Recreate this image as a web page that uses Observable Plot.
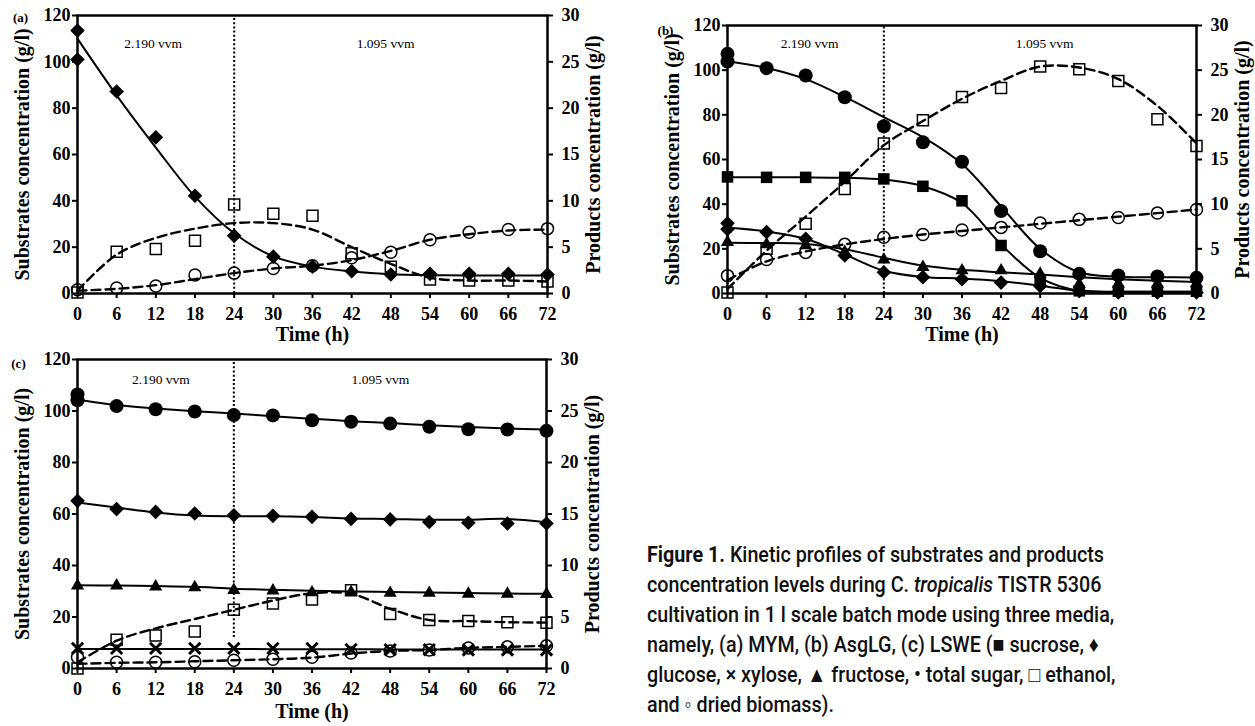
<!DOCTYPE html>
<html>
<head>
<meta charset="utf-8">
<script src="https://cdn.jsdelivr.net/npm/d3@7"></script>
<script src="https://cdn.jsdelivr.net/npm/@observablehq/plot@0.6"></script>
<style>
html,body{margin:0;padding:0;background:#fff;}
#root{position:relative;width:1255px;height:726px;overflow:hidden;background:#fff;}
.panel{position:absolute;}
.panel svg{display:block;overflow:visible;}
#caption{position:absolute;left:647px;top:540px;font-family:Roboto,"Noto Sans",sans-serif;font-size:22px;line-height:30px;font-weight:500;color:#111;white-space:nowrap;transform-origin:0 0;}
#caption b{font-weight:700;}
</style>
</head>
<body>
<div id="root">
  <div class="panel" id="pc" style="left:0px;top:330px"></div>
  <div class="panel" id="pa" style="left:0px;top:0px"></div>
  <div class="panel" id="pb" style="left:640px;top:0px"></div>
  <div id="caption">
    <div id="cap1"><b>Figure 1.</b> Kinetic profiles of substrates and products</div>
    <div>concentration levels during C. <i>tropicalis</i> TISTR 5306</div>
    <div>cultivation in 1 l scale batch mode using three media,</div>
    <div>namely, (a) MYM, (b) AsgLG, (c) LSWE (■ sucrose, ♦</div>
    <div>glucose, × xylose, ▲ fructose, • total sugar, □ ethanol,</div>
    <div>and ◦ dried biomass).</div>
  </div>
</div>
<script>
// ---------- DATA ----------
const hours = [0, 6, 12, 18, 24, 30, 36, 42, 48, 54, 60, 66, 72];
const substrateTicks = [0, 20, 40, 60, 80, 100, 120];
const productMax = 30;     // right axis top (g/l)
const substrateMax = 120;  // left axis top (g/l)

// (a) MYM  — substrates (g/l)
const aGlucose      = [113.5, 87.2, 67.4, 42.2, 24.9, 15.9, 11.6, 9.6, 8.2, 8.5, 8.5, 8.5, 8.2];
const aGlucoseT0b   = 101.0;
const aGlucoseFit   = [110, 85.5, 63, 41.8, 26, 16, 11.6, 9.5, 8.3, 7.9, 7.8, 7.8, 7.8];
// (a) products (g/l)
const aEthanol      = [0.1, 4.5, 4.8, 5.7, 9.6, 8.6, 8.4, 4.35, 2.9, 1.5, 1.4, 1.4, 1.3];
const aEthanolFit   = [0.3, 4.2, 6.0, 7.0, 7.6, 7.6, 6.9, 5.0, 3.2, 1.7, 1.4, 1.4, 1.3];
const aBiomass      = [0.4, 0.6, 0.8, 2.0, 2.2, 2.7, 3.0, 3.85, 4.45, 5.8, 6.6, 6.9, 7.0];
const aBiomassFit   = [0.3, 0.5, 0.9, 1.55, 2.2, 2.7, 3.0, 3.6, 4.6, 5.8, 6.4, 6.8, 6.9];

// (b) AsgLG — substrates (g/l)
const bTotal        = [107.3, 100.9, 97.6, 87.9, 74.9, 67.7, 59.0, 36.9, 18.9, 8.8, 8.1, 7.6, 7.0];
const bTotalT0b     = 103.9;
const bTotalFit     = [104, 101, 96, 88, 79, 70, 58, 39, 20, 9.5, 7.5, 7.3, 7.2];
const bSucrose      = [52.2, 52.0, 52.0, 52.0, 51.3, 48.0, 41.5, 21.5, 6.0, 1.2, 1.0, 1.0, 1.0];
const bSucroseFit   = [52, 52, 52, 51.8, 51, 48, 40.5, 22, 7, 1.2, 0.8, 0.8, 0.8];
const bGlucose      = [31.4, 27.5, 24.5, 17.0, 9.5, 7.3, 6.4, 4.9, 3.4, 1.2, 0.5, 0.5, 0.5];
const bGlucoseT0b   = 28.8;
const bGlucoseFit   = [29.6, 27.8, 24.5, 17.5, 10.2, 7.4, 6.7, 5.5, 3.5, 1.2, 0.8, 0.8, 0.8];
const bFructose     = [23.0, 22.0, 21.5, 18.5, 15.1, 11.8, 10.3, 10.3, 8.8, 4.2, 4.3, 4.3, 4.5];
const bFructoseFit  = [22.7, 22.6, 22.2, 19.8, 16.0, 12.5, 10.6, 9.5, 8.5, 7.3, 6.4, 5.7, 5.1];
// (b) products (g/l)
const bEthanol      = [0.1, 5.0, 7.8, 11.7, 16.8, 19.4, 22.0, 23.0, 25.4, 25.1, 23.8, 19.5, 16.5];
const bEthanolFit   = [0.5, 4.8, 8.6, 12.5, 16.6, 19.3, 21.8, 23.8, 25.4, 25.3, 24.0, 21.0, 16.8];
const bBiomass      = [2.0, 3.8, 4.6, 5.5, 6.3, 6.6, 7.1, 7.4, 7.9, 8.3, 8.5, 9.0, 9.4];
const bBiomassFit   = [1.5, 3.6, 4.7, 5.5, 6.1, 6.6, 7.0, 7.4, 7.8, 8.2, 8.6, 9.0, 9.4];

// (c) LSWE — substrates (g/l)
const cTotal        = [106.4, 101.9, 100.7, 99.8, 98.4, 98.3, 96.4, 95.8, 95.1, 93.9, 92.9, 92.8, 92.3];
const cTotalT0b     = 104.2;
const cTotalFit     = [104.5, 102.3, 101, 99.9, 99, 98, 97, 96, 95.3, 94.5, 93.8, 93.2, 92.8];
const cGlucose      = [65.1, 61.9, 60.8, 60.2, 59.5, 59.3, 58.9, 58.1, 57.9, 56.9, 56.6, 56.3, 56.3];
const cGlucoseFit   = [64.5, 62.5, 60.6, 59.4, 59.1, 59.1, 58.8, 58.3, 58.1, 57.8, 57.8, 58.1, 56.8];
const cFructose     = [32.2, 32.2, 31.8, 31.5, 30.4, 30.2, 29.5, 29.6, 29.3, 29.3, 29.0, 29.0, 28.9];
const cFructoseFit  = [32.3, 32.2, 32.0, 31.7, 31.0, 30.6, 30.2, 29.9, 29.7, 29.5, 29.3, 29.1, 29.0];
const cXylose       = [7.8, 7.8, 7.8, 7.8, 7.8, 7.8, 7.8, 7.4, 7.3, 7.3, 7.2, 7.2, 7.2];
const cXyloseFit    = [7.6, 7.6, 7.6, 7.6, 7.6, 7.5, 7.5, 7.5, 7.4, 7.4, 7.4, 7.4, 7.4];
// (c) products (g/l)
const cEthanol      = [0.0, 2.8, 3.2, 3.6, 5.7, 6.3, 6.7, 7.6, 5.3, 4.7, 4.6, 4.5, 4.45];
const cEthanolFit   = [0.6, 2.7, 3.9, 4.8, 5.7, 6.6, 7.3, 7.25, 5.8, 4.7, 4.6, 4.5, 4.45];
const cBiomass      = [1.1, 0.6, 0.6, 0.65, 0.8, 0.9, 1.1, 1.5, 1.7, 1.8, 2.0, 2.1, 2.2];
const cBiomassFit   = [0.45, 0.55, 0.6, 0.7, 0.8, 0.9, 1.05, 1.45, 1.7, 1.8, 2.0, 2.1, 2.2];

const aerationLabels = ["2.190 vvm", "1.095 vvm"];
const panelTags = ["(a)", "(b)", "(c)"];

// ---------- STYLES ----------
const PF = substrateMax / productMax; // products plotted against the left scale, right axis relabelled
const markerStyle = {
  sucrose:  {symbol: "square",   fill: "black", r: 6.5},
  glucose:  {symbol: "diamond2", fill: "black", r: 6.6},
  xylose:   {symbol: "times",    fill: "none", stroke: "black", strokeWidth: 3, r: 5.2},
  fructose: {symbol: "triangle", fill: "black", r: 4.9},
  total:    {symbol: "circle",   fill: "black", r: 7},
  ethanol:  {symbol: "square",   fill: "none", stroke: "black", strokeWidth: 1.5, r: 6.2},
  biomass:  {symbol: "circle",   fill: "none", stroke: "black", strokeWidth: 1.5, r: 6}
};

function toRows(vals, k, extraT0) {
  const rows = vals.map((v, i) => ({t: hours[i], v: v * k}));
  if (extraT0 !== undefined) rows.push({t: 0, v: extraT0 * k});
  return rows;
}

function makePanel(cfg) {
  const marks = [];
  marks.push(Plot.ruleX([24], {y1: cfg.dotted[0], y2: cfg.dotted[1], stroke: "black", strokeWidth: 2, strokeDasharray: "2,2.2"}));
  for (const s of cfg.series) {
    const k = s.product ? PF : 1;
    marks.push(Plot.line(toRows(s.fit, k), {
      x: "t", y: "v", curve: "catmull-rom", stroke: "black",
      strokeWidth: s.product ? 2.4 : 2,
      strokeDasharray: s.product ? "9,5" : "none"
    }));
  }
  const ordered = [...cfg.series.filter(s => s.product), ...cfg.series.filter(s => !s.product)];
  for (const s of ordered) {
    const k = s.product ? PF : 1;
    marks.push(Plot.dot(toRows(s.vals, k, s.t0b), {x: "t", y: "v", ...markerStyle[s.kind]}));
  }
  marks.push(Plot.frame({stroke: "black", strokeWidth: 2.5}));
  const tickFont = {fontSize: 18, fontWeight: "bold"};
  marks.push(Plot.axisX({ticks: hours, tickSize: 5, tickPadding: 9, strokeWidth: 2, label: null, tickFormat: d => String(d), ...tickFont}));
  marks.push(Plot.axisY({anchor: "left", ticks: substrateTicks, tickSize: 5, tickPadding: 2, strokeWidth: 2, label: null, tickFormat: d => String(d), ...tickFont}));
  marks.push(Plot.axisY({anchor: "right", ticks: substrateTicks, tickSize: 5, tickPadding: 9, strokeWidth: 2, label: null, tickFormat: d => String(d / PF), ...tickFont}));
  const titleFont = {fontSize: 20, fontWeight: "bold", fill: "black", textAnchor: "middle", lineAnchor: "middle"};
  marks.push(Plot.text(["Substrates concentration (g/l)"], {frameAnchor: "left", rotate: -90, dx: -55, ...titleFont}));
  marks.push(Plot.text(["Products concentration (g/l)"], {frameAnchor: "right", rotate: -90, dx: 46, ...titleFont}));
  marks.push(Plot.text(["Time (h)"], {frameAnchor: "bottom", dy: cfg.timeDy, ...titleFont}));
  marks.push(Plot.text([cfg.tag], {frameAnchor: "top-left", dx: cfg.tagPos[0], dy: cfg.tagPos[1], fontSize: 13, fontWeight: "bold", textAnchor: "middle", lineAnchor: "middle"}));
  marks.push(Plot.text(cfg.vvm, {x: "t", y: "v", text: "label", fontSize: 13.5, fill: "black"}));
  return Plot.plot({
    width: cfg.width, height: cfg.height,
    marginTop: cfg.mt, marginBottom: cfg.mb, marginLeft: cfg.ml, marginRight: cfg.mr,
    x: {domain: [0, 72]},
    y: {domain: [0, substrateMax]},
    style: {fontFamily: "'Liberation Serif', 'Times New Roman', serif", color: "black", background: "transparent", overflow: "visible"},
    marks
  });
}

const panelA = makePanel({
  tag: panelTags[0], tagPos: [-57, 2],
  width: 615, height: 345, mt: 15, mb: 52, ml: 77, mr: 68, timeDy: 41, dotted: [0, 120],
  vvm: [{t: 11.6, v: 108, label: aerationLabels[0]}, {t: 47.2, v: 108, label: aerationLabels[1]}],
  series: [
    {kind: "glucose", vals: aGlucose, t0b: aGlucoseT0b, fit: aGlucoseFit},
    {kind: "ethanol", vals: aEthanol, fit: aEthanolFit, product: true},
    {kind: "biomass", vals: aBiomass, fit: aBiomassFit, product: true}
  ]
});
const panelB = makePanel({
  tag: panelTags[1], tagPos: [-62, 5],
  width: 615, height: 345, mt: 25, mb: 52, ml: 87, mr: 59, timeDy: 41, dotted: [0, 120],
  vvm: [{t: 12.6, v: 111.8, label: aerationLabels[0]}, {t: 48.7, v: 111.8, label: aerationLabels[1]}],
  series: [
    {kind: "total", vals: bTotal, t0b: bTotalT0b, fit: bTotalFit},
    {kind: "sucrose", vals: bSucrose, fit: bSucroseFit},
    {kind: "glucose", vals: bGlucose, t0b: bGlucoseT0b, fit: bGlucoseFit},
    {kind: "fructose", vals: bFructose, fit: bFructoseFit},
    {kind: "ethanol", vals: bEthanol, fit: bEthanolFit, product: true},
    {kind: "biomass", vals: bBiomass, fit: bBiomassFit, product: true}
  ]
});
const panelC = makePanel({
  tag: panelTags[2], tagPos: [-59, 4],
  width: 615, height: 396, mt: 29, mb: 58, ml: 77, mr: 69, timeDy: 43, dotted: [12, 120],
  vvm: [{t: 12.8, v: 112.1, label: aerationLabels[0]}, {t: 46.5, v: 112.1, label: aerationLabels[1]}],
  series: [
    {kind: "total", vals: cTotal, t0b: cTotalT0b, fit: cTotalFit},
    {kind: "glucose", vals: cGlucose, fit: cGlucoseFit},
    {kind: "fructose", vals: cFructose, fit: cFructoseFit},
    {kind: "xylose", vals: cXylose, fit: cXyloseFit},
    {kind: "ethanol", vals: cEthanol, fit: cEthanolFit, product: true},
    {kind: "biomass", vals: cBiomass, fit: cBiomassFit, product: true}
  ]
});
document.getElementById("pa").append(panelA);
document.getElementById("pb").append(panelB);
document.getElementById("pc").append(panelC);

function fitCaption() {
  const cap = document.getElementById("caption");
  cap.style.transform = "none";
  const line = document.getElementById("cap1");
  const range = document.createRange();
  range.selectNodeContents(line);
  const w = range.getBoundingClientRect().width;
  if (w > 0) cap.style.transform = `scaleX(${457 / w})`;
}
fitCaption();
if (document.fonts && document.fonts.ready) document.fonts.ready.then(fitCaption);
</script>
</body>
</html>
